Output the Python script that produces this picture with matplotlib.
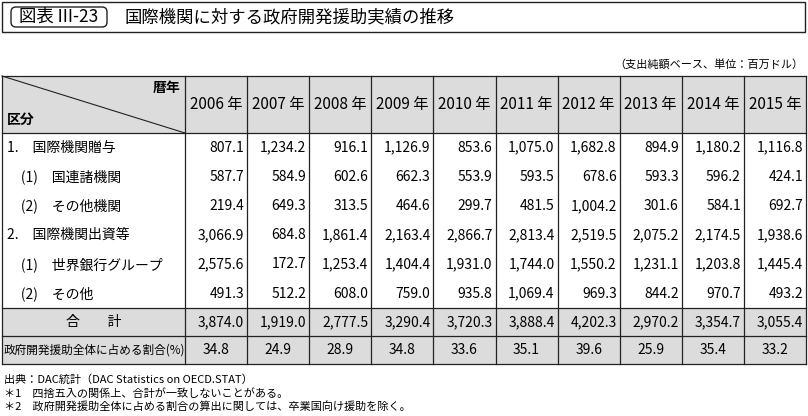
import matplotlib
matplotlib.use("Agg")
import matplotlib.pyplot as plt
from matplotlib.patches import Rectangle, FancyBboxPatch

years = ["2006 年", "2007 年", "2008 年", "2009 年", "2010 年", "2011 年", "2012 年", "2013 年", "2014 年", "2015 年"]
row_labels = ["1.　国際機関贈与", "　(1)　国連諸機関", "　(2)　その他機関", "2.　国際機関出資等",
              "　(1)　世界銀行グループ", "　(2)　その他"]
body_values = [
    ["807.1", "1,234.2", "916.1", "1,126.9", "853.6", "1,075.0", "1,682.8", "894.9", "1,180.2", "1,116.8"],
    ["587.7", "584.9", "602.6", "662.3", "553.9", "593.5", "678.6", "593.3", "596.2", "424.1"],
    ["219.4", "649.3", "313.5", "464.6", "299.7", "481.5", "1,004.2", "301.6", "584.1", "692.7"],
    ["3,066.9", "684.8", "1,861.4", "2,163.4", "2,866.7", "2,813.4", "2,519.5", "2,075.2", "2,174.5", "1,938.6"],
    ["2,575.6", "172.7", "1,253.4", "1,404.4", "1,931.0", "1,744.0", "1,550.2", "1,231.1", "1,203.8", "1,445.4"],
    ["491.3", "512.2", "608.0", "759.0", "935.8", "1,069.4", "969.3", "844.2", "970.7", "493.2"],
]
total_values = ["3,874.0", "1,919.0", "2,777.5", "3,290.4", "3,720.3", "3,888.4", "4,202.3", "2,970.2", "3,354.7", "3,055.4"]
ratio_values = ["34.8", "24.9", "28.9", "34.8", "33.6", "35.1", "39.6", "25.9", "35.4", "33.2"]
title = "国際機関に対する政府開発援助実績の推移"
fig_label = "図表 III-23"
unit = "（支出純額ベース、単位：百万ドル）"
notes = ["出典：DAC統計（DAC Statistics on OECD.STAT）",
         "＊1　四捨五入の関係上、合計が一致しないことがある。",
         "＊2　政府開発援助全体に占める割合の算出に関しては、卒業国向け援助を除く。"]

plt.rcParams["font.family"] = "Noto Sans CJK JP"
fig = plt.figure(figsize=(8.08, 4.16), dpi=100)
ax = fig.add_axes([0, 0, 1, 1])
ax.set_xlim(0, 808); ax.set_ylim(416, 0); ax.axis("off")
fs = 10
grey = "#dcdcdc"

# title
ax.add_patch(Rectangle((2, 2), 803, 30, fill=False, lw=1, ec="#222"))
ax.add_patch(FancyBboxPatch((11, 7), 96, 20, boxstyle="round,pad=0,rounding_size=5", fill=False, lw=1, ec="#222"))
ax.text(59, 17, fig_label, ha="center", va="center", fontsize=12.5)
ax.text(125, 17, title, ha="left", va="center", fontsize=12.5)
ax.text(803, 64, unit, ha="right", va="center", fontsize=8)

x0, xc, x1 = 2, 185, 806
cw = (x1 - xc) / len(years)
ytop, yh = 76, 133
rh = 29.2
yb = [yh + i * rh for i in range(len(body_values) + 1)]
ytot = yb[-1]; yrat = ytot + 28; ybot = yrat + 28

ax.add_patch(Rectangle((x0, ytop), x1 - x0, yh - ytop, fc=grey, ec="none"))
ax.add_patch(Rectangle((x0, ytot), x1 - x0, ybot - ytot, fc=grey, ec="none"))
for y in [ytop, yh, ytot, yrat, ybot]:
    ax.plot([x0, x1], [y, y], color="#222", lw=0.9)
for x in [x0, xc] + [xc + cw * (i + 1) for i in range(len(years))]:
    ax.plot([x, x], [ytop, ybot], color="#222", lw=0.9)
ax.plot([x0, xc], [ytop, yh], color="#222", lw=0.8)
ax.text(xc - 5, ytop + 12, "暦年", ha="right", va="center", fontsize=fs, fontweight="bold")
ax.text(x0 + 5, yh - 13, "区分", ha="left", va="center", fontsize=fs, fontweight="bold")
for i, yr in enumerate(years):
    ax.text(xc + cw * (i + 0.5), (ytop + yh) / 2, yr, ha="center", va="center", fontsize=fs + 1)

for r, (lab, vals) in enumerate(zip(row_labels, body_values)):
    yc = yb[r] + rh / 2
    ax.text(x0 + 5, yc, lab, ha="left", va="center", fontsize=fs)
    for i, v in enumerate(vals):
        ax.text(xc + cw * (i + 1) - 3, yc, v, ha="right", va="center", fontsize=fs)
ax.text((x0 + xc) / 2, (ytot + yrat) / 2, "合　　計", ha="center", va="center", fontsize=fs)
ax.text(x0 + 2, (yrat + ybot) / 2, "政府開発援助全体に占める割合(%)", ha="left", va="center", fontsize=8.4)
for i, v in enumerate(total_values):
    ax.text(xc + cw * (i + 1) - 3, (ytot + yrat) / 2, v, ha="right", va="center", fontsize=fs)
for i, v in enumerate(ratio_values):
    ax.text(xc + cw * (i + 0.5), (yrat + ybot) / 2, v, ha="center", va="center", fontsize=fs)

for k, n in enumerate(notes):
    ax.text(4, ybot + 15 + k * 14, n, ha="left", va="center", fontsize=8)

fig.savefig("out.png", dpi=100)
